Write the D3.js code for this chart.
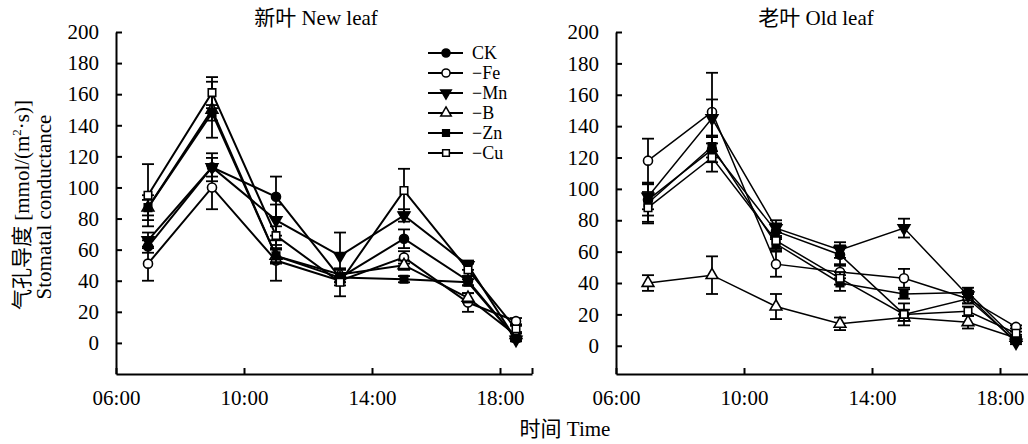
<!DOCTYPE html>
<html lang="zh">
<head>
<meta charset="UTF-8">
<title>Stomatal conductance</title>
<script src="https://cdnjs.cloudflare.com/ajax/libs/d3/7.8.5/d3.min.js"></script>
<style>
	body { margin: 0; background: #fff; }
	svg text { font-family: "Liberation Serif", "Noto Sans CJK SC", serif; fill: #000; }
</style>
</head>
<body>
<script>
	//----data----
	var times = [7, 9, 11, 13, 15, 17, 18.5];
	var seriesNames = ['CK', '\u2212Fe', '\u2212Mn', '\u2212B', '\u2212Zn', '\u2212Cu'];
	var xTickValues = [6, 10, 14, 18, 19];
	var xTickLabels = ['06:00', '10:00', '14:00', '18:00', ''];
	var yTickValues = [0, 20, 40, 60, 80, 100, 120, 140, 160, 180, 200];

	// new leaf (mean, error)
	var newCK = [62, 113, 94, 42, 67, 40, 3];
	var newFe = [51, 100, 53, 40, 55, 26, 14];
	var newMn = [66, 113, 79, 56, 82, 50, 2];
	var newB  = [87, 150, 56, 44, 50, 29, 5];
	var newZn = [87, 148, 56, 42, 41, 39, 3];
	var newCu = [95, 161, 69, 39, 98, 47, 9];
	var newCKErr = [4, 9, 13, 3, 6, 3, 1];
	var newFeErr = [11, 14, 13, 3, 4, 6, 2];
	var newMnErr = [5, 6, 10, 15, 4, 3, 1];
	var newBErr  = [5, 18, 5, 3, 3, 3, 1];
	var newZnErr = [8, 5, 4, 3, 2, 2, 1];
	var newCuErr = [20, 10, 6, 9, 14, 4, 2];

	// old leaf (mean, error)
	var oldCK = [93, 125, 73, 58, 20, 30, 3];
	var oldFe = [118, 149, 52, 47, 43, 30, 12];
	var oldMn = [95, 145, 75, 61, 75, 32, 2];
	var oldB  = [40, 45, 25, 14, 18, 15, 5];
	var oldZn = [91, 127, 65, 40, 33, 34, 4];
	var oldCu = [88, 120, 67, 43, 20, 22, 8];
	var oldCKErr = [10, 8, 5, 6, 3, 3, 1];
	var oldFeErr = [14, 25, 8, 4, 6, 3, 1];
	var oldMnErr = [8, 12, 5, 5, 6, 3, 1];
	var oldBErr  = [5, 12, 8, 4, 2, 4, 1];
	var oldZnErr = [12, 7, 4, 5, 3, 3, 1];
	var oldCuErr = [10, 9, 5, 4, 7, 3, 1];

	var newMeans = [newCK, newFe, newMn, newB, newZn, newCu];
	var newErrs = [newCKErr, newFeErr, newMnErr, newBErr, newZnErr, newCuErr];
	var oldMeans = [oldCK, oldFe, oldMn, oldB, oldZn, oldCu];
	var oldErrs = [oldCKErr, oldFeErr, oldMnErr, oldBErr, oldZnErr, oldCuErr];

	var FONT = '"Liberation Serif", "Noto Sans CJK SC", serif';

	//----marker style per series----
	var markers = [
		{type: d3.symbolCircle, fill: '#000', rot: 0, size: 64},
		{type: d3.symbolCircle, fill: '#fff', rot: 0, size: 64},
		{type: d3.symbolTriangle, fill: '#000', rot: 180, size: 60},
		{type: d3.symbolTriangle, fill: '#fff', rot: 0, size: 60},
		{type: d3.symbolSquare, fill: '#000', rot: 0, size: 56},
		{type: d3.symbolSquare, fill: '#fff', rot: 0, size: 56}
	];

	var W = 1028, H = 444;
	var svg = d3.select('body').append('svg')
		.attr('width', W)
		.attr('height', H)
		.style('font-family', FONT);

	function drawPanel(p) {
		var x = d3.scaleLinear().domain([6, 19]).range([p.left, p.left + 416]);
		var y = d3.scaleLinear().domain([p.yMin, 200]).range([374, 32]);
		var g = svg.append('g');

		//----Achsen----//
		var ax = g.append('g')
			.attr('transform', 'translate(0,' + y(p.yMin) + ')')
			.call(d3.axisBottom(x)
				.tickValues(xTickValues)
				.tickSizeInner(-6)
				.tickSizeOuter(0)
				.tickPadding(16)
				.tickFormat(function (d, i) { return xTickLabels[i]; }));
		var ay = g.append('g')
			.attr('transform', 'translate(' + p.left + ',0)')
			.call(d3.axisLeft(y)
				.tickValues(yTickValues)
				.tickSizeInner(-6)
				.tickSizeOuter(0)
				.tickPadding(17));
		[ax, ay].forEach(function (a) {
			a.attr('font-family', FONT).attr('font-size', 21);
			a.selectAll('path, line').attr('stroke', '#000').attr('stroke-width', 2);
			a.selectAll('text')
				.style('font-family', FONT)
				.style('font-size', '21px')
				.attr('fill', '#000');
		});

		var line = d3.line()
			.x(function (d, i) { return x(times[i]); })
			.y(function (d) { return y(d); });

		p.means.forEach(function (vals, s) {
			var errs = p.errs[s];
			var sg = g.append('g');
			sg.append('path')
				.attr('d', line(vals))
				.attr('fill', 'none')
				.attr('stroke', '#000')
				.attr('stroke-width', p.lw);

			var eb = sg.selectAll('.eb').data(vals).enter().append('g');
			eb.append('line')
				.attr('x1', function (d, i) { return x(times[i]); })
				.attr('x2', function (d, i) { return x(times[i]); })
				.attr('y1', function (d, i) { return y(d - errs[i]); })
				.attr('y2', function (d, i) { return y(d + errs[i]); });
			eb.append('line')
				.attr('x1', function (d, i) { return x(times[i]) - 6; })
				.attr('x2', function (d, i) { return x(times[i]) + 6; })
				.attr('y1', function (d, i) { return y(d + errs[i]); })
				.attr('y2', function (d, i) { return y(d + errs[i]); });
			eb.append('line')
				.attr('x1', function (d, i) { return x(times[i]) - 6; })
				.attr('x2', function (d, i) { return x(times[i]) + 6; })
				.attr('y1', function (d, i) { return y(d - errs[i]); })
				.attr('y2', function (d, i) { return y(d - errs[i]); });
			eb.selectAll('line').attr('stroke', '#000').attr('stroke-width', 1.8);

			var m = markers[s];
			sg.selectAll('.mk').data(vals).enter().append('path')
				.attr('d', d3.symbol().type(m.type).size(m.size))
				.attr('transform', function (d, i) {
					return 'translate(' + x(times[i]) + ',' + y(d) + ') rotate(' + m.rot + ')';
				})
				.attr('fill', m.fill)
				.attr('stroke', '#000')
				.attr('stroke-width', 1.6);
		});

		g.append('text')
			.attr('x', p.left + 200)
			.attr('y', 25)
			.attr('text-anchor', 'middle')
			.style('font-family', FONT)
			.style('font-size', '21px')
			.text(p.title);
	}

	drawPanel({left: 116, yMin: -20, means: newMeans, errs: newErrs, lw: 2, title: '新叶 New leaf'});
	drawPanel({left: 616, yMin: -18, means: oldMeans, errs: oldErrs, lw: 1.5, title: '老叶 Old leaf'});

	//----legend----
	var leg = svg.append('g').attr('transform', 'translate(428,53)');
	seriesNames.forEach(function (name, s) {
		var row = leg.append('g').attr('transform', 'translate(0,' + (s * 20) + ')');
		row.append('line')
			.attr('x1', 0).attr('x2', 35)
			.attr('stroke', '#000').attr('stroke-width', 2);
		var m = markers[s];
		row.append('path')
			.attr('d', d3.symbol().type(m.type).size(m.size * 0.8))
			.attr('transform', 'translate(18,0) rotate(' + m.rot + ')')
			.attr('fill', m.fill)
			.attr('stroke', '#000')
			.attr('stroke-width', 1.5);
		row.append('text')
			.attr('x', 44)
			.attr('dy', '0.33em')
			.style('font-family', FONT)
			.style('font-size', '18px')
			.text(name);
	});

	//----axis titles----
	var yl = svg.append('text')
		.attr('transform', 'translate(29,205) rotate(-90)')
		.attr('text-anchor', 'middle')
		.style('font-family', FONT)
		.style('font-size', '21px');
	yl.append('tspan').text('气孔导度 [mmol/(m');
	yl.append('tspan').attr('dy', -8).style('font-size', '13px').text('2');
	yl.append('tspan').attr('dy', 8).text('·s)]');

	svg.append('text')
		.attr('transform', 'translate(51,207) rotate(-90)')
		.attr('text-anchor', 'middle')
		.style('font-family', FONT)
		.style('font-size', '21px')
		.text('Stomatal conductance');

	svg.append('text')
		.attr('x', 565)
		.attr('y', 436)
		.attr('text-anchor', 'middle')
		.style('font-family', FONT)
		.style('font-size', '21px')
		.text('时间 Time');
</script>
</body>
</html>
